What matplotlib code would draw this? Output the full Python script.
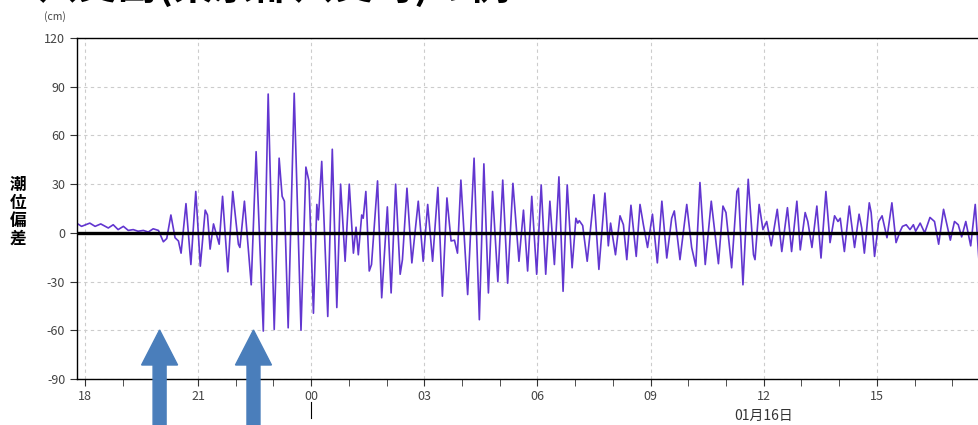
import matplotlib
matplotlib.use("Agg")
import matplotlib.pyplot as plt
from matplotlib.patches import FancyArrow
from matplotlib.transforms import IdentityTransform, blended_transform_factory

plt.rcParams["font.family"] = ["Noto Sans CJK JP", "DejaVu Sans"]
plt.rcParams["axes.unicode_minus"] = False

# hours after 01/15 18:00 and tide deviation (cm)
hours = [
    -0.22, -0.09, 0.13, 0.27, 0.42, 0.62, 0.75, 0.88, 1.02, 1.15, 1.28, 1.41,
    1.55, 1.68, 1.81, 1.95, 2.08, 2.17, 2.28, 2.39, 2.48, 2.55, 2.68, 2.81,
    2.94, 3.06, 3.19, 3.25, 3.32, 3.41, 3.56, 3.65, 3.79, 3.92, 4.07, 4.11,
    4.23, 4.41, 4.54, 4.73, 4.86, 5.02, 5.15, 5.23, 5.29, 5.39, 5.55, 5.73,
    5.86, 5.94, 6.06, 6.15, 6.19, 6.28, 6.44, 6.56, 6.68, 6.78, 6.90, 7.01,
    7.12, 7.19, 7.25, 7.34, 7.38, 7.45, 7.54, 7.60, 7.76, 7.87, 8.02, 8.12,
    8.24, 8.36, 8.42, 8.54, 8.67, 8.84, 8.97, 9.09, 9.22, 9.36, 9.48, 9.60,
    9.71, 9.80, 9.88, 9.97, 10.15, 10.32, 10.46, 10.58, 10.70, 10.81, 10.95,
    11.08, 11.21, 11.35, 11.51, 11.63, 11.74, 11.85, 11.98, 12.10, 12.22,
    12.33, 12.45, 12.57, 12.68, 12.79, 12.92, 13.02, 13.07, 13.11, 13.20,
    13.32, 13.50, 13.63, 13.79, 13.88, 13.94, 14.07, 14.19, 14.28, 14.37,
    14.48, 14.62, 14.72, 14.81, 14.92, 15.05, 15.18, 15.30, 15.43, 15.56,
    15.63, 15.78, 15.96, 16.09, 16.20, 16.31, 16.45, 16.61, 16.80, 16.92,
    17.00, 17.15, 17.29, 17.33, 17.45, 17.59, 17.73, 17.77, 17.88, 17.98,
    18.08, 18.20, 18.36, 18.48, 18.63, 18.74, 18.88, 18.97, 19.10, 19.17,
    19.28, 19.41, 19.52, 19.65, 19.76, 19.88, 19.97, 20.03, 20.14, 20.27,
    20.41, 20.53, 20.60, 20.67, 20.80, 20.85, 20.94, 21.05, 21.14, 21.27,
    21.40, 21.51, 21.62, 21.68, 21.78, 21.88, 21.97, 22.03, 22.15, 22.27,
    22.41, 22.53, 22.64, 22.77, 22.95, 23.06, 23.16, 23.25, 23.36, 23.49,
    23.61, 23.71,
]
deviation = [
    6, 4, 6, 4, 5.5, 3, 5, 2, 4, 1.5, 2, 1,
    1.5, 0.5, 2.5, 1.5, -5.5, -3.5, 11, -3, -5, -12.5, 18, -19.5,
    25.5, -20.5, 14, 11, -10, 5.5, -7, 22.5, -24, 25.5, -7, -9,
    19.5, -32, 50, -60.5, 85.5, -59.5, 46, 22.5, 19.5, -58.5, 86, -60,
    40.5, 32, -49.5, 17.5, 8, 44, -51.5, 51.5, -46, 30, -17.5, 30,
    -12.5, 3.5, -13.5, 11, 9, 25.5, -23.5, -19.5, 32, -40, 16, -37,
    30, -25.5, -16.5, 27.5, -18.5, 19.5, -17.5, 17.5, -17.5, 28, -39, 21.5,
    -5, -4.5, -12.5, 32.5, -38, 46, -53.5, 42.5, -37, 25.5, -30,
    32.5, -31, 30.5, -17.5, 14, -23.5, 22.5, -25.5, 29.5, -25.5,
    19.5, -19.5, 34.5, -36, 29.5, -21.5, 9, 6, 7.5, 4.5,
    -17.5, 23.5, -22.5, 24.5, -8, 6, -13.5, 10.5, 5, -16.5,
    17, -14.5, 17.5, 5, -9, 11.5, -18.5, 19.5, -15.5, 9,
    13.5, -16.5, 17.5, -9, -20.5, 31, -19.5, 19.5, -19, 16.5,
    12.5, -21.5, 25.5, 27.5, -32, 33, -13.5, -16.5, 17.5, 2,
    7, -8, 14.5, -11.5, 15.5, -11.5, 19.5, -10.5, 12.5, 7,
    -9, 16.5, -15.5, 25.5, -6, 10.5, 7, 9, -11.5, 16.5,
    -9, 11.5, 3, -12.5, 18.5, 12.5, -14.5, 7, 10.5, -3,
    18.5, -6, 1, 4, 5, 2, 5, 1, 6, 0,
    9.5, 7, -7, 14.5, -4.5, 7, 5, -2.5, 7, -8,
    17.5, -17.5,
]

tick_hours = [0, 3, 6, 9, 12, 15, 18, 21]
tick_labels = ["18", "21", "00", "03", "06", "09", "12", "15"]
y_ticks = [-90, -60, -30, 0, 30, 60, 90, 120]
arrival_hours = [1.98, 4.47]   # the two blue arrows

W, H = 979, 425
fig = plt.figure(figsize=(W / 100, H / 100), dpi=100)
ax = fig.add_axes([77 / W, 46 / H, 902 / W, 341 / H])

ax.plot(hours, deviation, color="#6236d0", lw=1.2, zorder=2)
ax.axhline(0, color="black", lw=2.4, zorder=3)

ax.set_xlim(-0.21, 23.71)
ax.set_ylim(-90, 120)
ax.set_xticks(tick_hours)
ax.set_xticklabels(tick_labels)
ax.set_xticks(range(0, 24), minor=True)
ax.set_yticks(y_ticks)

ax.grid(True, color="#cccccc", linestyle=(0, (3, 3)), lw=0.8)
ax.tick_params(axis="both", which="both", direction="out", length=5,
               color="#333333", labelsize=9, labelcolor="#444444")
ax.tick_params(axis="x", pad=3)
ax.spines["right"].set_visible(False)
for s in ["left", "bottom", "top"]:
    ax.spines[s].set_linewidth(1.0)

# date marker under 00 and date label
trans = blended_transform_factory(ax.transData, ax.transAxes)
ax.plot([6, 6], [-0.067, -0.114], color="black", lw=0.8,
        transform=trans, clip_on=False)
ax.text(18, -0.108, "01月16日", transform=trans, ha="center", va="center",
        fontsize=10, color="#333333")

# axis labels
fig.text(18 / W, 1 - 212 / H, "潮\n位\n偏\n差", ha="center", va="center",
         fontsize=12, fontweight="bold", linespacing=1.0)
fig.text(55 / W, 1 - 17 / H, "(cm)", ha="center", va="center",
         fontsize=7.5, color="#444444")

# title, cut off at the top of the picture
fig.text(38 / W, 1 + 1.5 / H, "八丈島(東京都八丈町)の例", ha="left",
         va="baseline", fontsize=29, fontweight="bold")

# arrows
fig.canvas.draw()
for t in arrival_hours:
    xp = ax.transData.transform((t, 0))[0]
    arr = FancyArrow(xp, -10, 0, 105, width=13, head_width=36,
                     head_length=35, length_includes_head=True,
                     color="#4a7ebb", transform=IdentityTransform())
    fig.add_artist(arr)

fig.savefig("out.png", dpi=100)
